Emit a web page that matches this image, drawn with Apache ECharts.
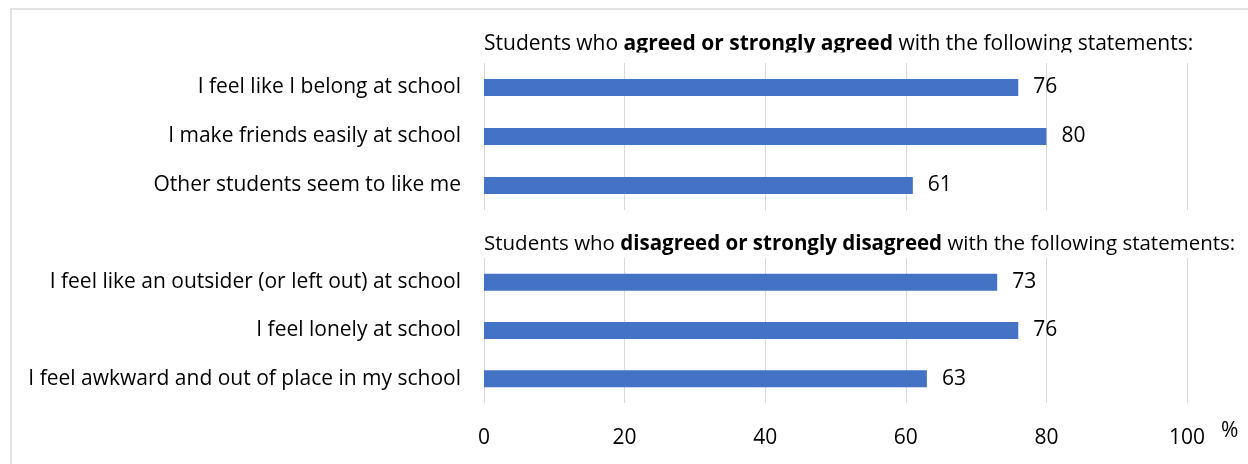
<!DOCTYPE html>
<html>
<head>
<meta charset="utf-8">
<script src="https://cdn.jsdelivr.net/npm/echarts@6/dist/echarts.min.js"></script>
<style>
html,body{margin:0;padding:0;background:#fff;}
#chart{width:1248px;height:464px;}
</style>
</head>
<body>
<div id="chart"></div>
<script>
const agreeCategories = ['I feel like I belong at school', 'I make friends easily at school', 'Other students seem to like me'];
const agreeValues = [76, 80, 61];
const disagreeCategories = ['I feel like an outsider (or left out) at school', 'I feel lonely at school', 'I feel awkward and out of place in my school'];
const disagreeValues = [73, 76, 63];
const xTicks = [0, 20, 40, 60, 80, 100];

const FONT = 'Open Sans';
const FS = 21;
const TXT = '#000000';
const GRIDC = '#d9d9d9';
const BAR = '#4472C4';

const chart = echarts.init(document.getElementById('chart'), null, {renderer: 'canvas'});

function xAxisDef(gridIndex, showLabels) {
  return {
    type: 'value', gridIndex: gridIndex, min: xTicks[0], max: xTicks[xTicks.length - 1], interval: 20,
    axisLine: {show: false}, axisTick: {show: false},
    axisLabel: {show: showLabels, color: TXT, fontFamily: FONT, fontSize: FS, margin: 25},
    splitLine: {show: true, lineStyle: {color: GRIDC, width: 1}}
  };
}
function yAxisDef(gridIndex, cats) {
  return {
    type: 'category', gridIndex: gridIndex, data: cats, inverse: true,
    axisLine: {show: false}, axisTick: {show: false},
    axisLabel: {color: TXT, fontFamily: FONT, fontSize: FS, margin: 23}
  };
}
function seriesDef(idx, vals) {
  return {
    type: 'bar', xAxisIndex: idx, yAxisIndex: idx, data: vals, barWidth: 17,
    itemStyle: {color: BAR},
    label: {show: true, position: 'right', distance: 15, color: TXT, fontFamily: FONT, fontSize: FS},
    silent: true
  };
}
function richStyles(fs) {
  return {
    n: {fontFamily: FONT, fontSize: fs, color: TXT, fontWeight: 'normal', lineHeight: 24},
    b: {fontFamily: FONT, fontSize: fs, color: TXT, fontWeight: 'bold', lineHeight: 24}
  };
}

chart.setOption({
  animation: false,
  backgroundColor: '#fff',
  title: [
    {
      text: '{n|Students who }{b|agreed or strongly agreed}{n| with the following statements:}',
      left: 484, top: 32, padding: 0,
      textStyle: {fontWeight: 'normal', rich: richStyles(21)}
    },
    {
      text: '{n|Students who }{b|disagreed or strongly disagreed}{n| with the following statements:}',
      left: 484, top: 232, padding: 0,
      textStyle: {fontWeight: 'normal', rich: richStyles(20.5)}
    }
  ],
  grid: [
    {left: 484, right: 61, top: 63, height: 147},
    {left: 484, right: 61, top: 258, height: 145}
  ],
  xAxis: [xAxisDef(0, false), xAxisDef(1, true)],
  yAxis: [yAxisDef(0, agreeCategories), yAxisDef(1, disagreeCategories)],
  series: [seriesDef(0, agreeValues), seriesDef(1, disagreeValues)],
  graphic: [
    {type: 'rect', shape: {x: 11, y: 9, width: 1260, height: 480}, style: {fill: 'none', stroke: '#d9d9d9', lineWidth: 1.5}, silent: true, z: -10},
    {type: 'rect', shape: {x: 470, y: 52.5, width: 790, height: 9}, style: {fill: '#ffffff'}, silent: true, z: 100},
    {type: 'text', left: 1221, top: 421, style: {text: '%', fontFamily: FONT, fontSize: FS, fill: TXT}, silent: true}
  ]
});
</script>
</body>
</html>
